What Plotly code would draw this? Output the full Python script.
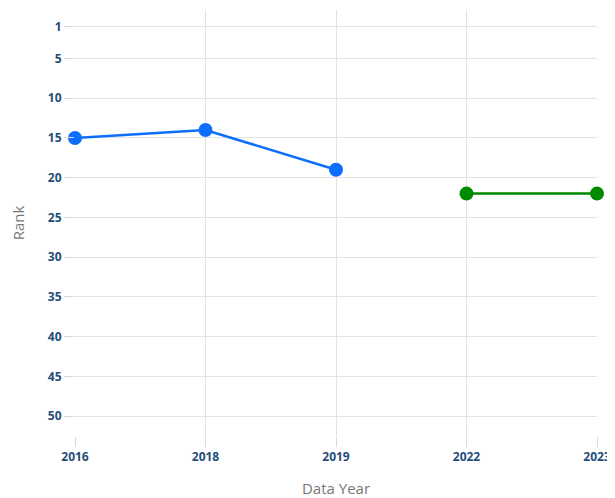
import plotly.graph_objects as go

# Rank history by data year
years = ["2016", "2018", "2019", "2022", "2023"]
early_years = ["2016", "2018", "2019"]
early_rank = [15, 14, 19]
late_years = ["2022", "2023"]
late_rank = [22, 22]
rank_ticks = [1, 5, 10, 15, 20, 25, 30, 35, 40, 45, 50]

fig = go.Figure()
fig.add_trace(go.Scatter(
    x=early_years, y=early_rank, mode="lines+markers",
    line=dict(color="#0d6efd", width=2.5),
    marker=dict(color="#0d6efd", size=14),
    cliponaxis=False, showlegend=False,
))
fig.add_trace(go.Scatter(
    x=late_years, y=late_rank, mode="lines+markers",
    line=dict(color="#008a00", width=2.5),
    marker=dict(color="#008a00", size=14),
    cliponaxis=False, showlegend=False,
))

# page body adds ~8px offset, so the figure is a bit smaller than the window
tick_font = dict(family="Open Sans", size=12, color="#1f4e79", weight="bold")
fig.update_layout(
    width=607, height=490,
    margin=dict(l=67, r=18, t=2, b=62),
    paper_bgcolor="white", plot_bgcolor="white",
    font=dict(family="Open Sans"),
    xaxis=dict(
        type="category", categoryorder="array", categoryarray=years,
        range=[0, 4], showgrid=True, gridcolor="#e3e3e3",
        ticks="outside", ticklen=10, tickcolor="#d8d8d8",
        tickfont=tick_font, zeroline=False, automargin=False,
        title=dict(text="Data Year", font=dict(size=15, color="#777777"), standoff=19),
    ),
    yaxis=dict(
        range=[52.5, -1.1], tickvals=rank_ticks,
        showgrid=True, gridcolor="#e3e3e3",
        ticks="outside", ticklen=10, tickcolor="#d8d8d8",
        tickfont=tick_font, zeroline=False, automargin=False,
        title=dict(text="Rank", font=dict(size=15, color="#777777"), standoff=22),
    ),
)

fig.write_html("out.html")
